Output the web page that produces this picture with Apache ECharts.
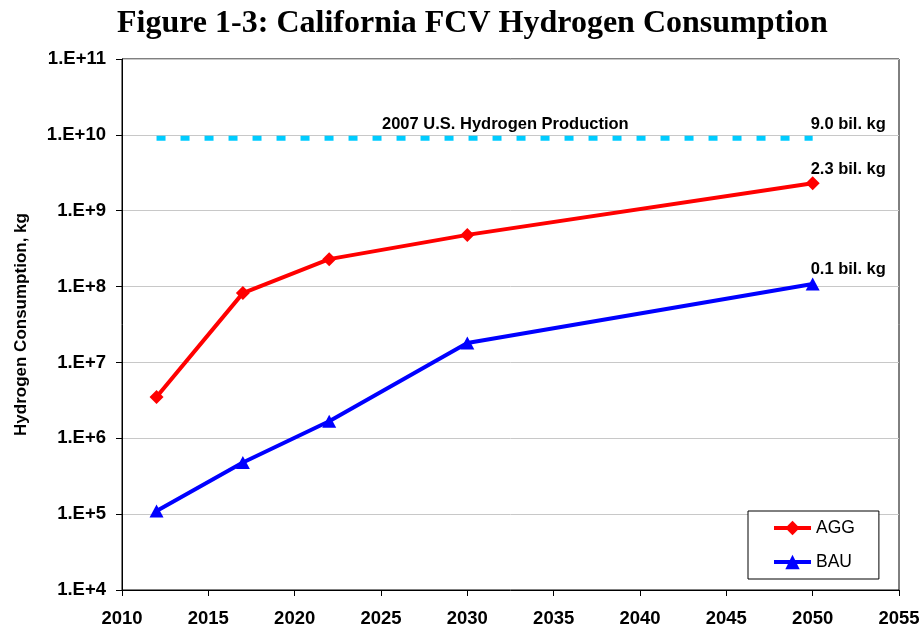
<!DOCTYPE html>
<html>
<head>
<meta charset="utf-8">
<title>California FCV Hydrogen Consumption</title>
<script src="https://cdn.jsdelivr.net/npm/echarts@6/dist/echarts.min.js"></script>
<style>
  html, body { margin: 0; padding: 0; background: #fff; }
  #chart { width: 923px; height: 629px; }
</style>
</head>
<body>
<div id="chart"></div>
<script>
// data
var years = [2012, 2017, 2022, 2030, 2050];
var aggValues = [3.5e6, 8.2e7, 2.3e8, 4.8e8, 2.3e9];
var bauValues = [1.1e5, 4.8e5, 1.68e6, 1.8e7, 1.08e8];
var productionYears = [2012, 2050];
var productionValue = 9.0e9;
var productionLabel = '2007 U.S. Hydrogen Production';
var productionLabelYear = 2032.2;
var endLabels = { production: '9.0 bil. kg', agg: '2.3 bil. kg', bau: '0.1 bil. kg' };

var FONT = 'Liberation Sans, Arial, sans-serif';

var labelText = {
  color: '#000',
  fontFamily: FONT,
  fontWeight: 'bold',
  fontSize: 16.5
};

// label only the last point of a series
function pairs(xs, ys, lastLabel, dy) {
  return xs.map(function (x, i) {
    var item = { value: [x, ys[i]] };
    if (lastLabel && i === xs.length - 1) {
      item.label = Object.assign({
        show: true,
        formatter: lastLabel,
        position: 'top',
        align: 'left',
        offset: [-2, dy]
      }, labelText);
    }
    return item;
  });
}

var chart = echarts.init(document.getElementById('chart'));
chart.setOption({
  animation: false,
  backgroundColor: '#fff',
  title: {
    text: 'Figure 1-3: California FCV Hydrogen Consumption',
    left: 112,
    top: 3,
    textStyle: {
      fontFamily: 'Liberation Serif, Times New Roman, serif',
      fontWeight: 'bold',
      fontSize: 32,
      color: '#000'
    }
  },
  grid: {
    left: 122,
    right: 24,
    top: 59,
    bottom: 39,
    outerBoundsMode: 'none',
    containLabel: false,
    show: true,
    borderColor: '#000',
    borderWidth: 1
  },
  legend: {
    data: ['AGG', 'BAU'],
    orient: 'vertical',
    left: 748,
    top: 511,
    padding: [8, 24, 8, 24],
    itemGap: 16,
    itemWidth: 37,
    itemHeight: 18,
    borderColor: '#000',
    borderWidth: 1,
    backgroundColor: '#fff',
    lineStyle: { width: 4 },
    textStyle: { fontFamily: FONT, fontSize: 17.5, color: '#000' }
  },
  xAxis: {
    type: 'value',
    min: 2010,
    max: 2055,
    interval: 5,
    axisLine: { lineStyle: { color: '#000', width: 1 } },
    axisTick: { show: true, length: 6, lineStyle: { color: '#000' } },
    splitLine: { show: false },
    axisLabel: {
      margin: 19,
      color: '#000',
      fontFamily: FONT,
      fontWeight: 'bold',
      fontSize: 18.5,
      formatter: function (v) { return String(v); }
    }
  },
  yAxis: {
    type: 'log',
    logBase: 10,
    min: 1e4,
    max: 1e11,
    name: 'Hydrogen Consumption, kg',
    nameLocation: 'middle',
    nameGap: 92,
    nameTextStyle: { fontFamily: FONT, fontWeight: 'bold', fontSize: 17, color: '#000' },
    axisLine: { show: true, lineStyle: { color: '#000', width: 1 } },
    axisTick: { show: true, length: 6, lineStyle: { color: '#000' } },
    splitLine: { show: true, lineStyle: { color: '#c8c8c8', width: 1 } },
    minorTick: { show: false },
    axisLabel: {
      margin: 16,
      color: '#000',
      fontFamily: FONT,
      fontWeight: 'bold',
      fontSize: 18.5,
      formatter: function (v) {
        return '1.E+' + Math.round(Math.log10(v));
      }
    }
  },
  series: [
    {
      name: 'Production',
      type: 'line',
      data: pairs(productionYears, productionYears.map(function () { return productionValue; }), endLabels.production, 0),
      symbol: 'circle',
      symbolSize: 0,
      itemStyle: { color: '#00ccff' },
      lineStyle: { color: '#00ccff', width: 5, type: [9, 15], cap: 'butt' },
      z: 1,
      markPoint: {
        symbol: 'circle',
        symbolSize: 0,
        data: [{ coord: [productionLabelYear, productionValue] }],
        label: Object.assign({
          show: true,
          formatter: productionLabel,
          position: 'top',
          offset: [0, 0]
        }, labelText)
      }
    },
    {
      name: 'AGG',
      type: 'line',
      data: pairs(years, aggValues, endLabels.agg, 7),
      symbol: 'diamond',
      symbolSize: 14,
      itemStyle: { color: '#ff0000' },
      lineStyle: { color: '#ff0000', width: 4 },
      z: 3
    },
    {
      name: 'BAU',
      type: 'line',
      data: pairs(years, bauValues, endLabels.bau, 5),
      symbol: 'triangle',
      symbolSize: [14, 13],
      itemStyle: { color: '#0000ff' },
      lineStyle: { color: '#0000ff', width: 4 },
      z: 3
    }
  ]
});
</script>
</body>
</html>
